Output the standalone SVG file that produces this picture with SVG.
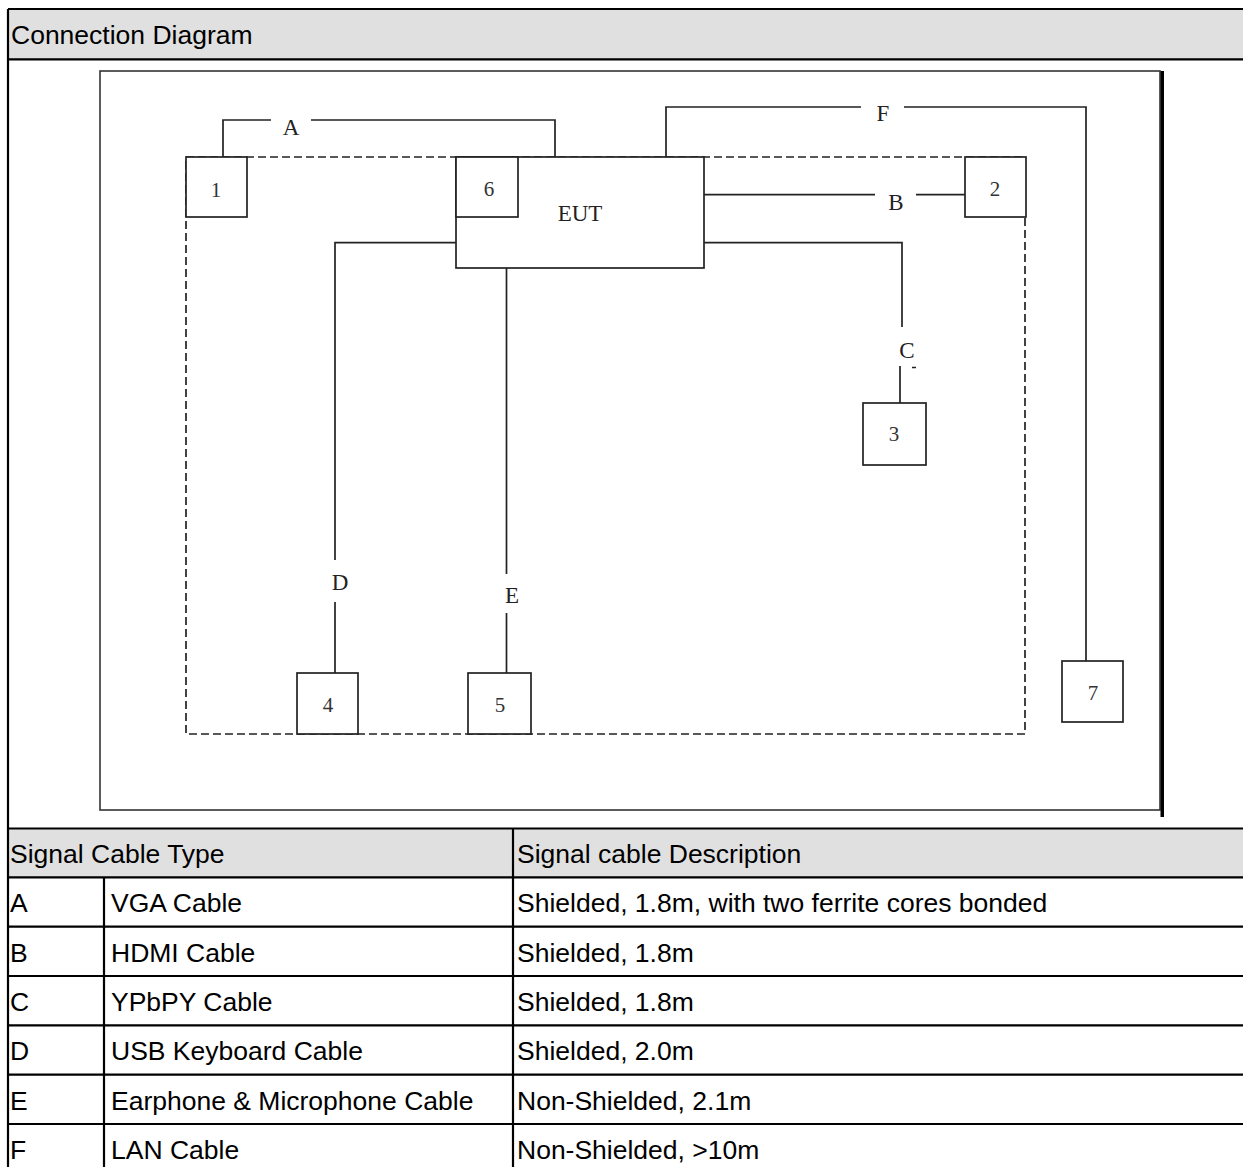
<svg xmlns="http://www.w3.org/2000/svg" width="1243" height="1167" viewBox="0 0 1243 1167">
<style>
.tt{font-family:"Liberation Sans",Arial,sans-serif;font-size:26.5px;fill:#000}
.tl{stroke:#000;stroke-width:2.2;fill:none}
.hd{fill:#e0e0e0}
.box{fill:#fff;stroke:#222;stroke-width:1.7}
.ln{stroke:#222;stroke-width:1.7;fill:none}
.dash{stroke:#222;stroke-width:1.7;fill:none;stroke-dasharray:8 4}
.lb{font-family:"Liberation Serif","Times New Roman",serif;font-size:23px;fill:#222;text-anchor:middle}
.num{font-family:"Liberation Serif","Times New Roman",serif;font-size:21px;fill:#333;text-anchor:middle}
</style>
<rect width="1243" height="1167" fill="#fff"/>
<g id="table">
<rect class="hd" x="8" y="9" width="1235" height="50"/>
<rect class="hd" x="8" y="828.5" width="1235" height="48.8"/>
<path class="tl" d="M8 9H1243M8 59.3H1243M8 828.5H1243M8 877.3H1243M8 926.7H1243M8 976H1243M8 1025.3H1243M8 1074.6H1243M8 1124H1243M8 9V1167M513 828.5V1167M104 877.3V1167"/>
<text class="tt" x="11" y="44">Connection Diagram</text>
<text class="tt" x="10" y="863">Signal Cable Type</text>
<text class="tt" x="517" y="863">Signal cable Description</text>
<text class="tt" x="10" y="912">A</text><text class="tt" x="111" y="912">VGA Cable</text><text class="tt" x="517" y="912">Shielded, 1.8m, with two ferrite cores bonded</text>
<text class="tt" x="10" y="961.5">B</text><text class="tt" x="111" y="961.5">HDMI Cable</text><text class="tt" x="517" y="961.5">Shielded, 1.8m</text>
<text class="tt" x="10" y="1011">C</text><text class="tt" x="111" y="1011">YPbPY Cable</text><text class="tt" x="517" y="1011">Shielded, 1.8m</text>
<text class="tt" x="10" y="1060.3">D</text><text class="tt" x="111" y="1060.3">USB Keyboard Cable</text><text class="tt" x="517" y="1060.3">Shielded, 2.0m</text>
<text class="tt" x="10" y="1109.6">E</text><text class="tt" x="111" y="1109.6">Earphone &amp; Microphone Cable</text><text class="tt" x="517" y="1109.6">Non-Shielded, 2.1m</text>
<text class="tt" x="10" y="1159">F</text><text class="tt" x="111" y="1159">LAN Cable</text><text class="tt" x="517" y="1159">Non-Shielded, &gt;10m</text>
</g>
<g id="frame">
<rect x="100" y="71" width="1060" height="739" fill="#fff" stroke="#333" stroke-width="1.6"/>
<rect x="1160.5" y="71" width="3.5" height="746" fill="#000"/>
</g>
<g id="boundary">
<rect class="dash" x="186" y="157" width="839" height="577"/>
</g>
<g id="connectors">
<path class="ln" d="M223 157V120H271M311 120H555V157"/>
<path class="ln" d="M666 157V107H861M904 107H1086V661"/>
<path class="ln" d="M704 194.7H875M916 194.7H965"/>
<path class="ln" d="M704 242.7H902V327M900 366V403M912 367.5H916"/>
<path class="ln" d="M456 242.7H335V560M335 602V673"/>
<path class="ln" d="M506.5 268V574M506.5 613V673"/>
<text class="lb" x="291" y="135">A</text>
<text class="lb" x="883" y="121">F</text>
<text class="lb" x="896" y="210">B</text>
<text class="lb" x="907" y="358">C</text>
<text class="lb" x="340" y="590">D</text>
<text class="lb" x="512" y="603">E</text>
</g>
<g id="eut"><rect class="box" x="456" y="157" width="248" height="111"/><text class="lb" x="580" y="221">EUT</text></g>
<g id="n6"><rect class="box" x="456" y="157" width="62" height="60"/><text class="num" x="489" y="196">6</text></g>
<g id="n1"><rect class="box" x="186" y="157" width="61" height="60"/><text class="num" x="216" y="197">1</text></g>
<g id="n2"><rect class="box" x="965" y="157" width="61" height="60"/><text class="num" x="995" y="196">2</text></g>
<g id="n3"><rect class="box" x="863" y="403" width="63" height="62"/><text class="num" x="894" y="441">3</text></g>
<g id="n4"><rect class="box" x="297" y="673" width="61" height="61"/><text class="num" x="328" y="712">4</text></g>
<g id="n5"><rect class="box" x="468" y="673" width="63" height="61"/><text class="num" x="500" y="712">5</text></g>
<g id="n7"><rect class="box" x="1062" y="661" width="61" height="61"/><text class="num" x="1093" y="700">7</text></g>
</svg>
